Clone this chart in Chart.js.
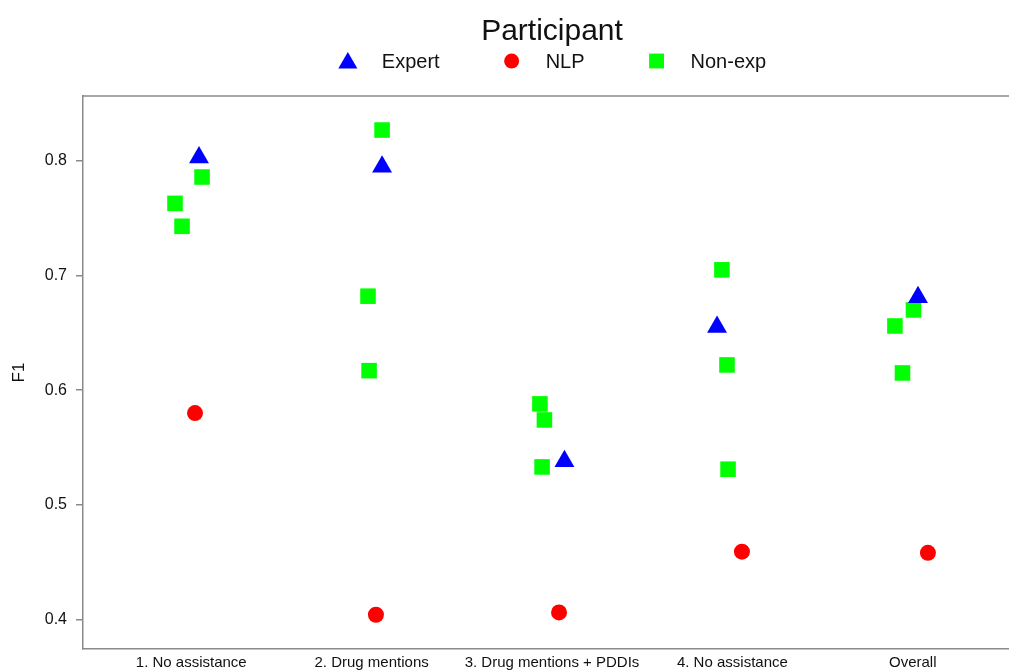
<!DOCTYPE html>
<html>
<head>
<meta charset="utf-8">
<script src="https://cdn.jsdelivr.net/npm/chart.js@4/dist/chart.umd.min.js"></script>
<style>
  html, body { margin: 0; padding: 0; overflow: hidden; background: #fff; }
  #wrap { width: 1040px; height: 690px; position: relative; }
</style>
</head>
<body>
<div id="wrap"><canvas id="myChart" width="1040" height="690"></canvas></div>
<script>
// categories on the x axis
var categories = ['1. No assistance', '2. Drug mentions', '3. Drug mentions + PDDIs', '4. No assistance', 'Overall'];
var yTicks = [0.4, 0.5, 0.6, 0.7, 0.8];

// Expert: one point per category (F1 and horizontal jitter in category units)
var expertF1 = [0.803, 0.795, 0.538, 0.655, 0.681];
var expertJitter = [0.043, 0.058, 0.069, -0.085, 0.029];

// NLP: one point per category
var nlpF1 = [0.580, 0.404, 0.406, 0.459, 0.458];
var nlpJitter = [0.021, 0.024, 0.039, 0.053, 0.084];

// Non-experts: three points per category
var nonExpCat = [0, 0, 0, 1, 1, 1, 2, 2, 2, 3, 3, 3, 4, 4, 4];
var nonExpF1 = [0.763, 0.743, 0.786, 0.827, 0.682, 0.617, 0.588, 0.574, 0.533, 0.705, 0.622, 0.531, 0.656, 0.670, 0.615];
var nonExpJitter = [-0.090, -0.051, 0.060, 0.058, -0.020, -0.014, -0.067, -0.042, -0.055, -0.058, -0.030, -0.024, -0.099, 0.004, -0.057];

var FONT = "'Liberation Sans', Arial, Helvetica, sans-serif";
var AXIS_GREY = '#8a8a8a';
var PLOT_RIGHT = 1021; // the plot box runs past the right edge of the picture

function toPoints(values, jitter, cats) {
  return values.map(function (v, i) {
    var c = cats ? cats[i] : i;
    return { x: c + jitter[i], y: v };
  });
}

var series = [
  { label: 'Expert', color: '#0000ff', style: 'triangle', radius: 11.5, data: toPoints(expertF1, expertJitter) },
  { label: 'NLP', color: '#ff0000', style: 'circle', radius: 8, data: toPoints(nlpF1, nlpJitter) },
  { label: 'Non-exp', color: '#00ff00', style: 'rect', radius: 11, data: toPoints(nonExpF1, nonExpJitter, nonExpCat) }
];

function drawMarker(ctx, style, x, y, r, color) {
  ctx.fillStyle = color;
  ctx.beginPath();
  if (style === 'triangle') {
    ctx.moveTo(x, y - r);
    ctx.lineTo(x + r * Math.sqrt(3) / 2, y + r / 2);
    ctx.lineTo(x - r * Math.sqrt(3) / 2, y + r / 2);
    ctx.closePath();
  } else if (style === 'circle') {
    ctx.arc(x, y, r, 0, Math.PI * 2);
  } else {
    var s = r * Math.SQRT1_2;
    ctx.rect(x - s, y - s, 2 * s, 2 * s);
  }
  ctx.fill();
}

// frame on top of the plot + legend with title
var framePlugin = {
  id: 'frameLegend',
  afterDraw: function (chart) {
    var ctx = chart.ctx;
    var a = chart.chartArea;
    ctx.save();
    ctx.strokeStyle = AXIS_GREY;
    ctx.lineWidth = 1.5;
    ctx.beginPath();
    ctx.moveTo(a.left, a.top);
    ctx.lineTo(a.right, a.top);
    ctx.lineTo(a.right, a.bottom);
    ctx.stroke();

    var cx = (a.left + a.right) / 2;
    ctx.fillStyle = '#111';
    ctx.textAlign = 'center';
    ctx.textBaseline = 'middle';
    ctx.font = '30px ' + FONT;
    ctx.fillText('Participant', cx, 32);

    ctx.font = '20px ' + FONT;
    var half = 10, toText = 34, gap = 62;
    var widths = series.map(function (s) { return ctx.measureText(s.label).width; });
    var total = gap * (series.length - 1);
    widths.forEach(function (w) { total += half + toText + w; });
    var x = cx - total / 2;
    var rowY = 61;
    ctx.textAlign = 'left';
    series.forEach(function (s, i) {
      var mx = x + half;
      var r = s.style === 'circle' ? 7.5 : (s.style === 'triangle' ? 11 : 10.5);
      drawMarker(ctx, s.style, mx, s.style === 'triangle' ? rowY + 2 : rowY, r, s.color);
      ctx.fillStyle = '#111';
      ctx.fillText(s.label, mx + toText, rowY + 1);
      x = mx + toText + widths[i] + gap;
    });
    ctx.restore();
  }
};

var ctx = document.getElementById('myChart');

var myChart = new Chart(ctx, {
  type: 'scatter',
  data: {
    datasets: series.map(function (s) {
      return {
        label: s.label,
        data: s.data,
        pointStyle: s.style,
        pointRadius: s.radius,
        pointHoverRadius: s.radius,
        pointBackgroundColor: s.color,
        pointBorderWidth: 0,
        backgroundColor: s.color,
        borderColor: s.color
      };
    })
  },
  options: {
    responsive: false,
    animation: false,
    events: [],
    layout: { padding: { top: 96, right: 1040 - PLOT_RIGHT, bottom: 0, left: 0 } },
    plugins: {
      legend: { display: false },
      tooltip: { enabled: false }
    },
    scales: {
      x: {
        type: 'linear',
        min: -0.6,
        max: 4.6,
        afterBuildTicks: function (scale) {
          scale.ticks = categories.map(function (c, i) { return { value: i }; });
        },
        afterFit: function (scale) { scale.height = 41; },
        grid: { display: true, drawOnChartArea: false, drawTicks: false },
        border: { color: AXIS_GREY, width: 1.5 },
        ticks: {
          autoSkip: false,
          maxRotation: 0,
          padding: 5,
          color: '#111',
          font: { family: FONT, size: 15 },
          callback: function (v) { return categories[v]; }
        }
      },
      y: {
        min: 0.3741,
        max: 0.8567,
        afterBuildTicks: function (scale) {
          scale.ticks = yTicks.map(function (v) { return { value: v }; });
        },
        afterFit: function (scale) { scale.width = 83; },
        grid: { drawOnChartArea: false, drawTicks: true, tickLength: 7, color: AXIS_GREY, lineWidth: 1.5 },
        border: { color: AXIS_GREY, width: 1.5 },
        title: {
          display: true,
          text: 'F1',
          color: '#111',
          font: { family: FONT, size: 17 },
          padding: { top: 9, bottom: 4 }
        },
        ticks: {
          padding: 9,
          color: '#111',
          font: { family: FONT, size: 16 },
          callback: function (v) { return v.toFixed(1); }
        }
      }
    }
  },
  plugins: [framePlugin]
});

// nudge the right padding so the plot box ends where the reference one does
var diff = myChart.chartArea.right - PLOT_RIGHT;
if (Math.abs(diff) > 0.5) {
  myChart.options.layout.padding.right += diff;
  myChart.update();
}
</script>
</body>
</html>
